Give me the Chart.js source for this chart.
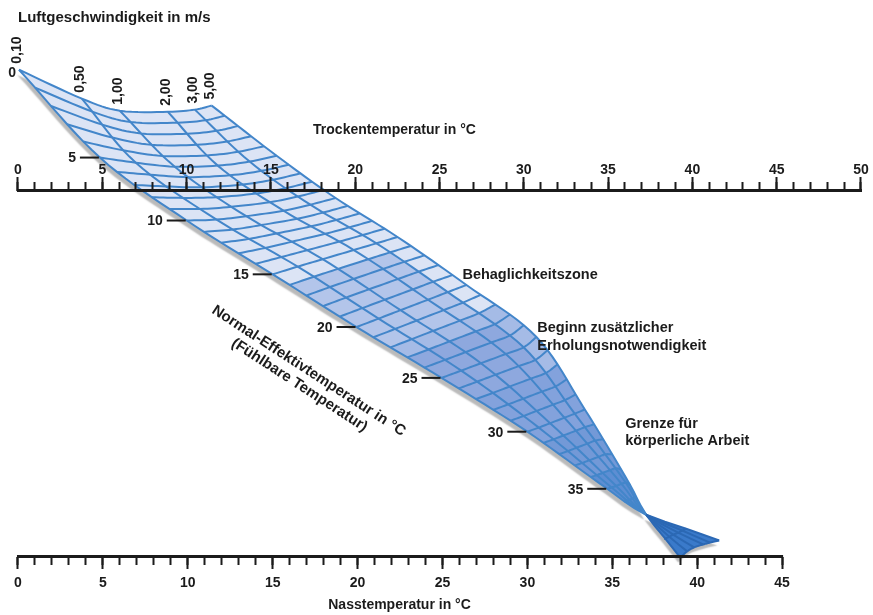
<!DOCTYPE html>
<html lang="de">
<head>
<meta charset="utf-8">
<title>Normal-Effektivtemperatur</title>
<script src="https://cdn.jsdelivr.net/npm/chart.js@4.4.0/dist/chart.umd.min.js"></script>
<style>
  html, body { margin: 0; padding: 0; background: #fff; }
  #wrap { width: 873px; height: 615px; }
</style>
</head>
<body>
<div id="wrap"><canvas id="nomo"></canvas></div>
<script>
// ---------- values ----------
const speedLabels = ['0,10', '0,50', '1,00', '2,00', '3,00', '5,00'];
const etNodes = [0, 5, 10, 15, 20, 25, 30, 35, 37, 38, 39];
const etTicks = [5, 10, 15, 20, 25, 30, 35];
const dryTicks = [0, 50];   // first / last label of the dry scale
const wetTicks = [0, 45];   // first / last label of the wet scale
// grid nodes per speed curve, x on the dry scale (°C),
// y in % of the way from the dry scale (0) down to the wet scale (100)
const nodeX = [
  [0.06, 4.86, 10.01, 15.11, 20.08, 25.12, 30.21, 34.95, 37.26, 39.63, 41.59],
  [3.79, 6.99, 11.78, 16.59, 21.39, 26.29, 30.89, 35.21, 37.26, 39.40, 41.05],
  [6.04, 9.30, 13.54, 18.07, 22.69, 27.46, 31.56, 35.47, 37.26, 39.16, 40.64],
  [8.89, 11.85, 15.75, 19.92, 24.32, 28.93, 32.41, 35.80, 37.26, 38.86, 40.11],
  [10.49, 13.74, 17.34, 21.26, 25.49, 29.99, 33.02, 36.04, 37.26, 38.63, 39.69],
  [11.49, 15.34, 18.84, 22.51, 26.60, 30.75, 33.62, 36.29, 37.26, 38.39, 39.28]
];
const nodeY = [
  [-33.0, -9.0, 8.2, 22.9, 37.3, 51.2, 65.9, 81.5, 88.6, 92.4, 95.6],
  [-25.1, -7.6, 7.95, 20.79, 35.0, 49.21, 64.78, 81.12, 88.6, 92.9, 96.2],
  [-21.8, -6.5, 7.02, 18.77, 32.70, 47.19, 63.58, 80.68, 88.6, 93.5, 96.7],
  [-21.5, -6.8, 5.52, 16.26, 29.84, 44.67, 62.08, 80.14, 88.6, 94.0, 97.5],
  [-22.1, -7.9, 3.88, 14.43, 27.76, 42.84, 60.98, 79.75, 88.6, 94.6, 98.6],
  [-23.2, -9.5, 2.05, 12.70, 25.82, 40.03, 59.82, 80.30, 88.6, 95.1, 100.3]
];
// shaded zones: ET from/to, speed index from/to, colour
const shadeFrom = [16, 22, 23, 27, 31, 34];
const shadeTo = [22, 37, 27, 37, 37, 37];
const shadeSpeedA = [0, 0, 0, 0, 0, 0];
const shadeSpeedB = [4, 5, 4, 5, 5, 5];
const shadeColor = ['#b3c5ea', '#a5bbe6', '#8ea8de', '#83a2dc', '#7399d7', '#5d8ed3'];

const noteLines = ['Behaglichkeitszone', 'Beginn zusätzlicher', 'Erholungsnotwendigkeit', 'Grenze für', 'körperliche Arbeit'];

// ---------- layout / style ----------
const dryMin = -1.066, dryMax = 50.652;
const wetMin = -1.059, wetMax = 50.294;
const yMin = -52.05, yMax = 115.98;
const FONT = "'Liberation Sans', Arial, Helvetica, sans-serif";
const gridBlue = '#4386ca';
const tipLine = '#2b68b4';
const bandLight = '#dce4f5';
const tipBlue = '#3a7aca';
const ink = '#1b1b1b';
const clear = 'rgba(0,0,0,0)';

// smooth curve through (ts, vs)
function curve(ts, vs, t) {
  const n = ts.length;
  let k = 0;
  while (k < n - 2 && t > ts[k + 1]) k++;
  const slope = i => i === 0 ? (vs[1] - vs[0]) / (ts[1] - ts[0])
    : i === n - 1 ? (vs[i] - vs[i - 1]) / (ts[i] - ts[i - 1])
    : (vs[i + 1] - vs[i - 1]) / (ts[i + 1] - ts[i - 1]);
  const h = ts[k + 1] - ts[k], s = (t - ts[k]) / h;
  const s2 = s * s, s3 = s2 * s;
  return (2 * s3 - 3 * s2 + 1) * vs[k] + (s3 - 2 * s2 + s) * h * slope(k)
    + (-2 * s3 + 3 * s2) * vs[k + 1] + (s3 - s2) * h * slope(k + 1);
}
function onSpeed(i, e) {
  return { x: curve(etNodes, nodeX[i], e), y: curve(etNodes, nodeY[i], e) };
}
function range(a, b, step) {
  const out = [];
  const st = a <= b ? step : -step;
  for (let t = a; st > 0 ? t <= b + 1e-9 : t >= b - 1e-9; t += st) out.push(t);
  return out;
}
// one ET grid line, from speed index a to b
function etLine(e, a, b) {
  const idx = speedLabels.map((_, i) => i);
  const xs = idx.map(i => onSpeed(i, e).x);
  const ys = idx.map(i => onSpeed(i, e).y);
  return range(a, b, 0.125).map(t => ({ x: curve(idx, xs, t), y: curve(idx, ys, t) }));
}
function speedLine(i, e1, e2) {
  return range(e1, e2, 0.5).map(e => onSpeed(i, e));
}
function patch(e1, e2, a, b) {
  return [].concat(etLine(e1, a, b), speedLine(b, e1, e2), etLine(e2, b, a), speedLine(a, e2, e1));
}

const last = speedLabels.length - 1;
const etEnd = etNodes[etNodes.length - 1];
const pinch = 37;
const pinchY = onSpeed(0, pinch).y;
const datasets = [];

// grid lines
range(0, etEnd, 1).forEach(e => {
  if (e === pinch) return;
  datasets.push({ data: etLine(e, 0, last), borderColor: e > pinch ? tipLine : gridBlue, borderWidth: 2, fill: false, order: 1 });
});
speedLabels.forEach((_, i) => {
  datasets.push({ data: speedLine(i, 0, etEnd), borderColor: gridBlue, borderWidth: 2, fill: false, order: 1,
    segment: { borderColor: c => c.p0.parsed.y >= pinchY - 1e-6 ? tipLine : gridBlue } });
});
// shaded zones
shadeFrom.forEach((e1, k) => {
  datasets.push({ data: patch(e1, shadeTo[k], shadeSpeedA[k], shadeSpeedB[k]), backgroundColor: shadeColor[k],
    borderWidth: 0, fill: 'shape', order: 9 - k });
});
datasets.push({ data: [].concat(speedLine(0, pinch, etEnd), etLine(etEnd, 0, last), speedLine(last, etEnd, pinch)),
  backgroundColor: tipBlue, borderWidth: 0, fill: 'shape', order: 2 });
// whole band plus the tip, casts the grey shadow
datasets.push({
  data: [].concat(etLine(0, 0, last), speedLine(last, 0, pinch), speedLine(0, pinch, 0), [{ x: null, y: null }],
    speedLine(0, pinch, etEnd), etLine(etEnd, 0, last), speedLine(last, etEnd, pinch)),
  backgroundColor: bandLight, borderWidth: 0, fill: 'shape', order: 12, castShadow: true
});

function axis(min, max, yPos, step, tick, showLabels, pad, lims) {
  const inside = v => v >= lims[0] - 1e-6 && v <= lims[1] + 1e-6;
  return {
    type: 'linear', axis: 'x', min, max, position: { y: yPos },
    ticks: { stepSize: step, includeBounds: false, display: showLabels, padding: pad, autoSkip: false, maxRotation: 0,
      color: ink, font: { family: FONT, size: 14, weight: 'bold' }, z: 2,
      callback: v => inside(v) ? String(Math.round(v)) : '' },
    grid: { drawOnChartArea: false, drawTicks: true, tickLength: tick, tickWidth: 2, z: 2,
      tickColor: c => inside(c.tick.value) ? ink : clear },
    border: { display: false }
  };
}

const textPlugin = {
  id: 'nomoText',
  beforeDatasetsDraw(chart) {
    const c = chart.ctx;
    c.shadowColor = 'rgba(0,0,0,0.27)';
    c.shadowOffsetX = -2;
    c.shadowOffsetY = 5;
    c.shadowBlur = 1.5;
  },
  afterDatasetDraw(chart, args) {
    if (chart.data.datasets[args.index].castShadow) {
      chart.ctx.shadowColor = clear;
      chart.ctx.shadowBlur = 0; chart.ctx.shadowOffsetX = 0; chart.ctx.shadowOffsetY = 0;
    }
  },
  afterDraw(chart) {
    const c = chart.ctx, sx = chart.scales.x, sy = chart.scales.y, sw = chart.scales.wet;
    const px = v => sx.getPixelForValue(v), py = v => sy.getPixelForValue(v);
    c.save();
    c.fillStyle = ink; c.strokeStyle = ink;
    // scale base lines, from first to last tick
    c.lineWidth = 3;
    c.beginPath();
    c.moveTo(px(dryTicks[0]) - 1, py(0)); c.lineTo(px(dryTicks[1]) + 1, py(0));
    c.moveTo(sw.getPixelForValue(wetTicks[0]) - 1, py(100)); c.lineTo(sw.getPixelForValue(wetTicks[1]) + 1, py(100));
    c.stroke();
    // ET ticks on the left edge
    c.font = `bold 14px ${FONT}`;
    c.textAlign = 'right'; c.textBaseline = 'middle';
    c.lineWidth = 2;
    etTicks.forEach(e => {
      const p = onSpeed(0, e);
      const x = px(p.x), y = py(p.y);
      c.beginPath(); c.moveTo(x - 20, y); c.lineTo(x - 1, y); c.stroke();
      c.fillText(String(e), x - 24, y + 1);
    });
    const p0 = onSpeed(0, 0);
    c.fillText('0', px(p0.x) - 3, py(p0.y) + 3);
    // speed labels, rotated
    c.font = `bold 14px ${FONT}`;
    c.textAlign = 'left';
    speedLabels.forEach((lab, i) => {
      const p = onSpeed(i, 0);
      c.save();
      c.translate(px(p.x) - 2, py(p.y) - 6);
      c.rotate(-Math.PI / 2);
      c.fillText(lab, 0, 0);
      c.restore();
    });
    // titles
    c.font = `bold 15px ${FONT}`;
    c.textAlign = 'left';
    c.fillText('Luftgeschwindigkeit in m/s', px(0), py(-47.1));
    c.font = `bold 14px ${FONT}`;
    c.textAlign = 'center';
    c.fillText('Trockentemperatur in °C', px(22.33), py(-16.5));
    c.fillText('Nasstemperatur in °C', px(22.63), py(113.3));
    // zone notes
    c.font = `bold 14.5px ${FONT}`;
    c.textAlign = 'left';
    const noteX = [26.36, 30.80, 30.80, 36.02, 36.02];
    const noteY = [23.1, 37.6, 42.5, 63.8, 68.4];
    noteLines.forEach((t, k) => c.fillText(t, px(noteX[k]), py(noteY[k])));
    // slanted axis title
    c.save();
    c.translate(px(17.24), py(49.3));
    c.rotate(33 * Math.PI / 180);
    c.textAlign = 'center';
    c.font = `bold 15px ${FONT}`;
    c.fillText('Normal-Effektivtemperatur in °C', 0, 0);
    c.fillText('(Fühlbare Temperatur)', 0, 17);
    c.restore();
    c.restore();
  }
};

new Chart(document.getElementById('nomo'), {
  type: 'line',
  data: { datasets },
  options: {
    responsive: true, maintainAspectRatio: false, animation: false, events: [],
    layout: { padding: 0 },
    elements: { point: { radius: 0 }, line: { tension: 0 } },
    plugins: { legend: { display: false }, tooltip: { enabled: false } },
    scales: {
      x: axis(dryMin, dryMax, 0, 5, -14, true, -15, dryTicks),
      xMinor: axis(dryMin, dryMax, 0, 1, -9, false, 0, dryTicks),
      wet: axis(wetMin, wetMax, 100, 5, 12, true, 6, wetTicks),
      wetMinor: axis(wetMin, wetMax, 100, 1, 8, false, 0, wetTicks),
      y: { type: 'linear', min: yMin, max: yMax, reverse: true, display: false }
    }
  },
  plugins: [textPlugin]
});
</script>
</body>
</html>
